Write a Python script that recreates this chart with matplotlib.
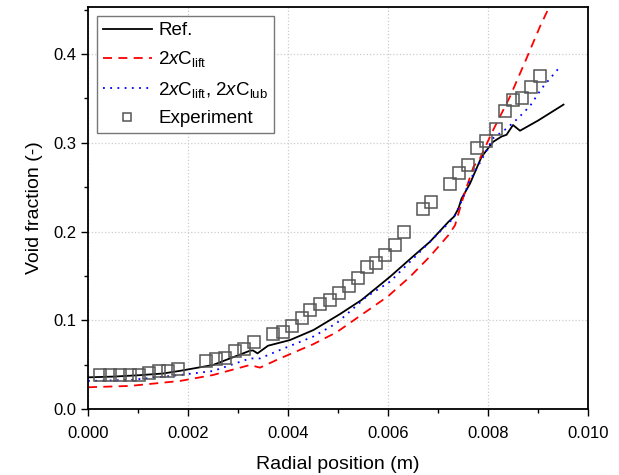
import matplotlib
matplotlib.use("Agg")
import matplotlib.pyplot as plt
from matplotlib.ticker import MultipleLocator

plt.rcParams['font.family'] = ['Liberation Sans', 'DejaVu Sans']
plt.rcParams['mathtext.fontset'] = 'custom'
plt.rcParams['mathtext.rm'] = 'Liberation Sans'
plt.rcParams['mathtext.it'] = 'Liberation Sans:italic'

# Ref. (black solid)
ref_x = [0.0, 0.0005, 0.0010, 0.0015, 0.00184, 0.0025, 0.00324, 0.0033, 0.00339,
         0.0036, 0.00404, 0.00451, 0.00504, 0.00547, 0.00604, 0.00651, 0.00684,
         0.00721, 0.00732, 0.00741, 0.00747, 0.00764, 0.00787, 0.0081, 0.00827,
         0.00837, 0.0085, 0.00864, 0.0090, 0.00951]
ref_y = [0.0357, 0.0365, 0.0380, 0.0400, 0.043, 0.0496, 0.0657, 0.066, 0.0627,
         0.0713, 0.0777, 0.089, 0.107, 0.1228, 0.149, 0.1724, 0.1885,
         0.211, 0.2167, 0.226, 0.237, 0.254, 0.284, 0.301, 0.307,
         0.309, 0.320, 0.3136, 0.325, 0.343]

# 2xC_lift (red dashed)
lift_x = [0.0, 0.00084, 0.00184, 0.0025, 0.00324, 0.00344, 0.00384, 0.0045,
          0.00497, 0.0060, 0.00644, 0.00684, 0.00721, 0.00734, 0.00741, 0.00751,
          0.00771, 0.00784, 0.0081, 0.00844, 0.00877, 0.00904, 0.0093]
lift_y = [0.0245, 0.026, 0.0316, 0.0383, 0.0496, 0.0466, 0.057, 0.0729,
          0.0864, 0.127, 0.149, 0.172, 0.196, 0.207, 0.2204, 0.2394,
          0.273, 0.2825, 0.314, 0.352, 0.395, 0.431, 0.462]

# 2xC_lift, 2xC_lub (blue dotted)
lub_x = [0.0, 0.00084, 0.00184, 0.0025, 0.00324, 0.00344, 0.00384, 0.0045,
         0.00497, 0.00557, 0.00604, 0.00661, 0.00704, 0.00731, 0.00744, 0.00764,
         0.00787, 0.0081, 0.00837, 0.0086, 0.00884, 0.00907, 0.00944]
lub_y = [0.0316, 0.0327, 0.0383, 0.0428, 0.057, 0.057, 0.0665, 0.0815,
         0.0966, 0.1265, 0.1435, 0.1754, 0.200, 0.215, 0.230, 0.258,
         0.2806, 0.305, 0.316, 0.3276, 0.3414, 0.361, 0.3857]

# Experiment (open squares)
exp_x = [0.00024, 0.00043, 0.00063, 0.00083, 0.00101, 0.00121, 0.00141, 0.00159,
         0.00179, 0.00235, 0.00255, 0.00273, 0.00293, 0.00312, 0.00331, 0.00369,
         0.00389, 0.00408, 0.00427, 0.00444, 0.00463, 0.00483, 0.00501, 0.00521,
         0.00539, 0.00557, 0.00576, 0.00594, 0.00613, 0.00631, 0.00669, 0.00686,
         0.00723, 0.00741, 0.00759, 0.00777, 0.00795, 0.00816, 0.00833, 0.00849,
         0.00867, 0.00886, 0.00903]
exp_y = [0.038, 0.038, 0.038, 0.038, 0.038, 0.041, 0.043, 0.043,
         0.045, 0.054, 0.056, 0.058, 0.065, 0.068, 0.075, 0.0845,
         0.087, 0.0935, 0.102, 0.1115, 0.118, 0.123, 0.131, 0.1386,
         0.148, 0.160, 0.164, 0.174, 0.185, 0.199, 0.225, 0.2336,
         0.254, 0.266, 0.275, 0.294, 0.302, 0.316, 0.336, 0.348,
         0.351, 0.363, 0.375]

fig = plt.figure(figsize=(6.19, 4.75), dpi=100)
ax = fig.add_axes([88 / 619, 66 / 475, 500 / 619, 402 / 475])

ax.plot(ref_x, ref_y, color='black', lw=1.3, label='Ref.')
ax.plot(lift_x, lift_y, color='red', lw=1.3, ls=(0, (5, 3.5)), label=r'2$x$C$_{\mathrm{lift}}$')
ax.plot(lub_x, lub_y, color='blue', lw=1.3, ls=(0, (1, 3)),
        label=r'2$x$C$_{\mathrm{lift}}$, 2$x$C$_{\mathrm{lub}}$')
ax.plot(exp_x, exp_y, ls='none', marker='s', ms=8.5, mfc='none', mec='#555555',
        mew=1.1, label='Experiment')

ax.set_xlim(0, 0.010)
ax.set_ylim(0, 0.453)
ax.xaxis.set_major_locator(MultipleLocator(0.002))
ax.xaxis.set_minor_locator(MultipleLocator(0.001))
ax.yaxis.set_major_locator(MultipleLocator(0.1))
ax.yaxis.set_minor_locator(MultipleLocator(0.05))
ax.xaxis.set_major_formatter(matplotlib.ticker.FormatStrFormatter('%.3f'))
ax.yaxis.set_major_formatter(matplotlib.ticker.FormatStrFormatter('%.1f'))
ax.tick_params(which='both', direction='out', labelsize=12)
ax.tick_params(axis='x', pad=7)
ax.tick_params(which='major', length=5, width=1)
ax.tick_params(which='minor', length=3, width=1)
ax.grid(True, which='major', ls=':', color='#cccccc', lw=0.9)
for s in ax.spines.values():
    s.set_linewidth(1.3)

ax.set_xlabel('Radial position (m)', fontsize=14, labelpad=11)
ax.set_ylabel('Void fraction (-)', fontsize=14, labelpad=7)

leg = ax.legend(loc='upper left', fontsize=13.5, fancybox=False, framealpha=1,
                edgecolor='#777777', handlelength=2.6, borderaxespad=0.5,
                labelspacing=0.55, handletextpad=0.35, markerscale=0.6,
                borderpad=0.3)
leg.get_frame().set_linewidth(1.0)

fig.savefig('out.png', dpi=100)
